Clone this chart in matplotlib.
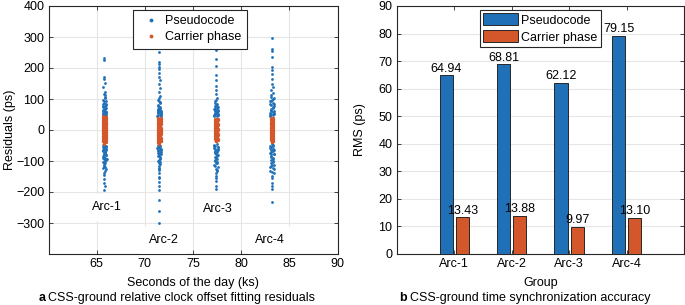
import matplotlib
matplotlib.use("Agg")
import matplotlib.pyplot as plt
from matplotlib.patches import Patch
from matplotlib.lines import Line2D

plt.rcParams['font.family'] = ['Liberation Sans', 'DejaVu Sans']
FS = 9

# ---------------- data: panel a (residuals, ps; time, ks) ----------------
arc1_code_r = [232, 226, 172, 165, 153, 138, 122, 115, 108, 98, 92, 85, 80, 74, 68, 63, 58, 55, 50, 47,
               52, 60, 66, 71, 88, 102, -48, -52, -57, -61, -66, -70, -75, -80, -84, -89, -93, -98, -103, -108,
               -112, -118, -124, -131, -138, -146, -158, -170, -182, -195, -55, -63, -72, -86, -95, 45, 57, 62, 77, -105,
               49, 54, 59, 64, 70, 76, 83, 95, 112, -50, -54, -59, -64, -68, -73, -78, -82, -91, -100, -115, -127]
arc1_code_t = [65.80, 65.78, 65.72, 65.76, 65.83, 65.70, 65.86, 65.74, 65.91, 65.68, 65.95, 65.62, 65.99, 65.66, 65.88,
               65.73, 65.81, 66.02, 65.64, 65.93, 65.69, 65.85, 65.77, 65.97, 65.71, 65.89, 65.65, 65.92, 65.75, 66.01,
               65.67, 65.84, 65.79, 65.96, 65.63, 65.87, 65.72, 65.94, 65.70, 65.82, 65.76, 65.90, 65.68, 65.86, 65.74,
               65.80, 65.77, 65.71, 65.83, 65.75, 65.98, 65.66, 65.90, 65.73, 66.03, 65.61, 65.94, 65.69, 65.87, 65.78,
               65.87, 65.63, 65.96, 65.70, 65.85, 65.64, 65.92, 65.79, 65.83, 65.90, 65.69, 65.82, 65.97, 65.62, 65.88,
               65.71, 65.94, 65.66, 65.85, 65.78, 65.92]

arc2_code_r = [252, 220, 212, 204, 196, 185, 172, 160, 148, 135, 122, 110, 98, 90, 82, 75, 68, 62, 57, 52,
               48, 55, 60, 65, 72, 44, -48, -52, -56, -60, -65, -70, -74, -79, -85, -90, -96, -102, -108, -115,
               -122, -130, -140, -150, -155, -168, -180, -195, -225, -262, -300, -320, -58, -66, -82, -93, 46, 53, 58, 86,
               50, 54, 59, 63, 70, 78, 94, 104, -50, -54, -62, -68, -72, -77, -88, -99, -111, -126]
arc2_code_t = [71.50, 71.48, 71.46, 71.52, 71.44, 71.50, 71.47, 71.53, 71.45, 71.55, 71.42, 71.58, 71.40, 71.60, 71.38,
               71.62, 71.36, 71.64, 71.34, 71.66, 71.32, 71.68, 71.41, 71.57, 71.49, 71.63, 71.37, 71.59, 71.43, 71.65,
               71.35, 71.61, 71.39, 71.67, 71.33, 71.56, 71.46, 71.54, 71.44, 71.51, 71.48, 71.47, 71.52, 71.45, 71.50,
               71.49, 71.46, 71.48, 71.47, 71.49, 71.46, 71.48, 71.30, 71.70, 71.42, 71.58, 71.31, 71.69, 71.40, 71.60,
               71.61, 71.35, 71.66, 71.40, 71.56, 71.33, 71.52, 71.45, 71.62, 71.34, 71.57, 71.39, 71.66, 71.43, 71.60,
               71.36, 71.55, 71.47]

arc3_code_r = [257, 230, 205, 176, 160, 142, 128, 115, 102, 92, 84, 76, 70, 64, 58, 54, 50, 46, 62, 68,
               73, 80, 44, 48, 56, 88, -45, -50, -54, -58, -63, -68, -72, -77, -82, -88, -94, -100, -106, -112,
               -118, -125, -132, -140, -148, -155, -165, -180, -190, -220, -52, -60, -70, -84, -97, 47, 52, 60, 66, -108,
               49, 53, 57, 65, 71, 78, 96, -47, -55, -62, -66, -74, -80, -91, -103, -115, -129]
arc3_code_t = [77.40, 77.38, 77.42, 77.39, 77.41, 77.37, 77.43, 77.36, 77.44, 77.33, 77.47, 77.30, 77.50, 77.27, 77.53,
               77.24, 77.56, 77.21, 77.59, 77.18, 77.62, 77.35, 77.45, 77.28, 77.52, 77.32, 77.48, 77.25, 77.55, 77.22,
               77.58, 77.29, 77.51, 77.34, 77.46, 77.26, 77.54, 77.31, 77.49, 77.23, 77.57, 77.36, 77.44, 77.38, 77.42,
               77.40, 77.39, 77.41, 77.40, 77.41, 77.20, 77.60, 77.27, 77.53, 77.33, 77.19, 77.61, 77.30, 77.50, 77.37,
               77.55, 77.24, 77.44, 77.58, 77.29, 77.47, 77.35, 77.21, 77.60, 77.32, 77.50, 77.26, 77.56, 77.38, 77.52,
               77.28, 77.45]

arc4_code_r = [298, 262, 256, 236, 202, 194, 180, 166, 150, 140, 130, 118, 108, 100, 95, 88, 80, 74, 68, 62,
               56, 51, 47, 85, 92, 103, -46, -50, -55, -60, -64, -69, -74, -79, -84, -90, -96, -102, -108, -114,
               -120, -127, -133, -140, -147, -155, -170, -180, -190, -233, -335, -345, -375, -58, -66, -78, -92, 45, 54, 60,
               71, -112, 49, 53, 58, 65, 77, 83, 97, 112, -48, -53, -62, -71, -76, -87, -99, -117, -124, -137]
arc4_code_t = [83.20, 83.22, 83.18, 83.21, 83.19, 83.23, 83.17, 83.24, 83.16, 83.26, 83.14, 83.28, 83.12, 83.30, 83.10,
               83.32, 83.08, 83.34, 83.06, 83.36, 83.04, 83.38, 83.02, 83.40, 82.98, 83.42, 83.15, 83.27, 83.11, 83.31,
               83.07, 83.35, 83.03, 83.39, 83.13, 83.29, 83.09, 83.33, 83.05, 83.37, 83.01, 83.41, 82.99, 83.43, 83.18,
               83.24, 83.19, 83.21, 83.20, 83.22, 83.20, 83.19, 83.21, 82.97, 83.44, 83.10, 83.30, 83.00, 83.40, 83.14,
               83.26, 83.16, 83.35, 83.05, 83.28, 83.10, 83.38, 83.02, 83.25, 83.13, 83.33, 83.04, 83.29, 83.08, 83.40,
               83.12, 83.26, 83.06, 83.34, 83.17]

arc1_phase_r = [44, 40, 36, 32, 28, 24, 20, 16, 12, 8, 4, 0, -4, -8, -12, -16, -20, -24, -28, -32, -36, -40, -44,
                42, 38, 34, 30, 26, 22, 18, 14, 10, 6, 2, -2, -6, -10, -14, -18, -22, -26, -30, -34, -38,
                41, 33, 25, 17, 9, 1, -7, -15, -23, -31, -39]
arc1_phase_t = [65.66, 65.94, 65.67, 65.93, 65.66, 65.94, 65.68, 65.92, 65.66, 65.94, 65.67, 65.93, 65.66, 65.94,
                65.68, 65.92, 65.66, 65.94, 65.67, 65.93, 65.66, 65.94, 65.80,
                65.94, 65.66, 65.93, 65.67, 65.94, 65.66, 65.92, 65.68, 65.94, 65.66, 65.93, 65.67, 65.94,
                65.66, 65.92, 65.68, 65.94, 65.66, 65.93, 65.67, 65.80,
                65.80, 65.81, 65.79, 65.80, 65.81, 65.79, 65.80, 65.81, 65.79, 65.80, 65.81]

arc2_phase_r = [40, 36, 32, 28, 24, 20, 16, 12, 8, 4, 0, -4, -8, -12, -16, -20, -24, -28, -32, -36, -40, -45,
                38, 34, 30, 26, 22, 18, 14, 10, 6, 2, -2, -6, -10, -14, -18, -22, -26, -30, -34, -38, -42,
                37, 29, 21, 13, 5, -3, -11, -19, -27, -35, -43]
arc2_phase_t = [71.36, 71.64, 71.37, 71.63, 71.36, 71.64, 71.38, 71.62, 71.36, 71.64, 71.37, 71.63, 71.36, 71.64,
                71.38, 71.62, 71.36, 71.64, 71.37, 71.63, 71.36, 71.50,
                71.64, 71.36, 71.63, 71.37, 71.64, 71.36, 71.62, 71.38, 71.64, 71.36, 71.63, 71.37, 71.64,
                71.36, 71.62, 71.38, 71.64, 71.36, 71.63, 71.37, 71.50,
                71.50, 71.51, 71.49, 71.50, 71.51, 71.49, 71.50, 71.51, 71.49, 71.50]

arc3_phase_r = [36, 32, 28, 24, 20, 16, 12, 8, 4, 0, -4, -8, -12, -16, -20, -24, -28, -32, -36,
                34, 30, 26, 22, 18, 14, 10, 6, 2, -2, -6, -10, -14, -18, -22, -26, -30, -34,
                35, 27, 19, 11, 3, -5, -13, -21, -29, -35]
arc3_phase_t = [77.27, 77.55, 77.28, 77.54, 77.27, 77.55, 77.29, 77.53, 77.27, 77.55, 77.28, 77.54, 77.27,
                77.55, 77.29, 77.53, 77.27, 77.55, 77.41,
                77.55, 77.27, 77.54, 77.28, 77.55, 77.27, 77.53, 77.29, 77.55, 77.27, 77.54, 77.28, 77.55,
                77.27, 77.53, 77.29, 77.55, 77.40,
                77.41, 77.40, 77.42, 77.41, 77.40, 77.42, 77.41, 77.40, 77.42, 77.41]

arc4_phase_r = [40, 36, 32, 28, 24, 20, 16, 12, 8, 4, 0, -4, -8, -12, -16, -20, -24, -28, -32, -36, -40,
                38, 34, 30, 26, 22, 18, 14, 10, 6, 2, -2, -6, -10, -14, -18, -22, -26, -30, -34, -38,
                39, 31, 23, 15, 7, -1, -9, -17, -25, -33, -39]
arc4_phase_t = [83.06, 83.34, 83.07, 83.33, 83.06, 83.34, 83.08, 83.32, 83.06, 83.34, 83.07, 83.33, 83.06,
                83.34, 83.08, 83.32, 83.06, 83.34, 83.07, 83.33, 83.20,
                83.34, 83.06, 83.33, 83.07, 83.34, 83.06, 83.32, 83.08, 83.34, 83.06, 83.33, 83.07, 83.34,
                83.06, 83.32, 83.08, 83.34, 83.06, 83.33, 83.19,
                83.20, 83.21, 83.19, 83.20, 83.21, 83.19, 83.20, 83.21, 83.19, 83.20, 83.21]

arc_labels = ['Arc-1', 'Arc-2', 'Arc-3', 'Arc-4']
arc_label_x = [66.05, 71.94, 77.6, 83.0]
arc_label_y = [-250, -356, -256, -356]

# ---------------- data: panel b (RMS, ps) ----------------
groups = ['Arc-1', 'Arc-2', 'Arc-3', 'Arc-4']
rms_code = [64.94, 68.81, 62.12, 79.15]
rms_phase = [13.43, 13.88, 9.97, 13.10]

BLUE = '#2070b8'
ORANGE = '#d4562b'
EDGE = '#262626'
GRID = '#e6e6e6'

fig = plt.figure(figsize=(6.85, 3.05), dpi=100)
axa = fig.add_axes([48.5 / 685, 1 - 254 / 305, 289 / 685, 248 / 305])
axb = fig.add_axes([396.7 / 685, 1 - 254 / 305, 287.3 / 685, 248 / 305])

for ax in (axa, axb):
    ax.set_axisbelow(True)
    for sp in ax.spines.values():
        sp.set_color(EDGE)
        sp.set_linewidth(0.8)
    ax.tick_params(direction='in', length=3, width=0.6, color=EDGE, labelsize=FS,
                   top=True, right=True, pad=3, labelcolor='black')

# panel a
code_sets = [(arc1_code_t, arc1_code_r), (arc2_code_t, arc2_code_r),
             (arc3_code_t, arc3_code_r), (arc4_code_t, arc4_code_r)]
phase_sets = [(arc1_phase_t, arc1_phase_r), (arc2_phase_t, arc2_phase_r),
              (arc3_phase_t, arc3_phase_r), (arc4_phase_t, arc4_phase_r)]
for t, r in code_sets:
    n = min(len(t), len(r))
    axa.scatter(t[:n], r[:n], s=4.0, color=BLUE, linewidths=0, zorder=3)
for t, r in phase_sets:
    n = min(len(t), len(r))
    axa.scatter(t[:n], r[:n], s=5.5, color=ORANGE, linewidths=0, zorder=4)

for lab, x, y in zip(arc_labels, arc_label_x, arc_label_y):
    axa.text(x, y, lab, ha='center', va='center', fontsize=FS, zorder=5,
             bbox=dict(boxstyle='square,pad=0.6', facecolor='white', edgecolor='none'))

axa.set_xlim(60, 90)
axa.set_ylim(-400, 400)
axa.set_xticks([65, 70, 75, 80, 85, 90])
axa.set_yticks([-300, -200, -100, 0, 100, 200, 300, 400])
axa.set_yticklabels(['\u2212300', '\u2212200', '\u2212100', '0', '100', '200', '300', '400'])
axa.grid(True, color=GRID, linewidth=0.8)
axa.set_xlabel('Seconds of the day (ks)', fontsize=FS, labelpad=5)
axa.set_ylabel('Residuals (ps)', fontsize=FS, labelpad=0)

ha = [Line2D([], [], marker='.', linestyle='none', color=BLUE, markersize=3.5),
      Line2D([], [], marker='.', linestyle='none', color=ORANGE, markersize=3.5)]
lega = axa.legend(ha, ['Pseudocode', 'Carrier phase'], loc='upper center', bbox_to_anchor=(0.49, 0.985),
                  fontsize=FS, frameon=True, fancybox=False, edgecolor=EDGE, framealpha=1,
                  handlelength=2.0, handletextpad=0.1, borderpad=0.45, labelspacing=0.3, borderaxespad=0)
lega.get_frame().set_linewidth(0.8)

# panel b
xs = list(range(1, len(groups) + 1))
off = 0.14
w = 0.23
bars1 = axb.bar([x - off for x in xs], rms_code, width=w, color=BLUE, edgecolor=EDGE, linewidth=0.7, zorder=3)
bars2 = axb.bar([x + off for x in xs], rms_phase, width=w, color=ORANGE, edgecolor=EDGE, linewidth=0.7, zorder=3)
for b, v in zip(bars1, rms_code):
    axb.annotate(f'{v:.2f}', (b.get_x() + b.get_width() / 2, v), xytext=(0, 0.3),
                 textcoords='offset points', ha='center', va='bottom', fontsize=FS, zorder=5)
for b, v in zip(bars2, rms_phase):
    axb.annotate(f'{v:.2f}', (b.get_x() + b.get_width() / 2, v), xytext=(0, 0.3),
                 textcoords='offset points', ha='center', va='bottom', fontsize=FS, zorder=5)
axb.set_xlim(0, 5)
axb.set_ylim(0, 90)
axb.set_xticks(xs)
axb.set_xticklabels(groups)
axb.set_yticks(range(0, 91, 10))
axb.yaxis.grid(True, color=GRID, linewidth=0.8)
axb.set_xlabel('Group', fontsize=FS, labelpad=5)
axb.set_ylabel('RMS (ps)', fontsize=FS, labelpad=9)

hb = [Patch(facecolor=BLUE, edgecolor=EDGE, linewidth=0.7), Patch(facecolor=ORANGE, edgecolor=EDGE, linewidth=0.7)]
legb = axb.legend(hb, ['Pseudocode', 'Carrier phase'], loc='upper center', bbox_to_anchor=(0.5, 0.985),
                  fontsize=FS, frameon=True, fancybox=False, edgecolor=EDGE, framealpha=1,
                  handlelength=2.8, handleheight=1.1, handletextpad=0.2, borderpad=0.3,
                  labelspacing=0.3, borderaxespad=0)
legb.get_frame().set_linewidth(0.8)

# captions
renderer = fig.canvas.get_renderer()
for letter, rest, x0 in [('a', 'CSS-ground relative clock offset fitting residuals', 38.5),
                         ('b', 'CSS-ground time synchronization accuracy', 399.5)]:
    t1 = fig.text(x0 / 685, 1 - 298 / 305, letter, fontsize=FS, fontweight='bold', ha='left', va='center')
    bb = t1.get_window_extent(renderer=renderer)
    fig.text((bb.x1 + 3) / 685, 1 - 298 / 305, rest, fontsize=FS, ha='left', va='center')

fig.savefig('out.png', dpi=100)
